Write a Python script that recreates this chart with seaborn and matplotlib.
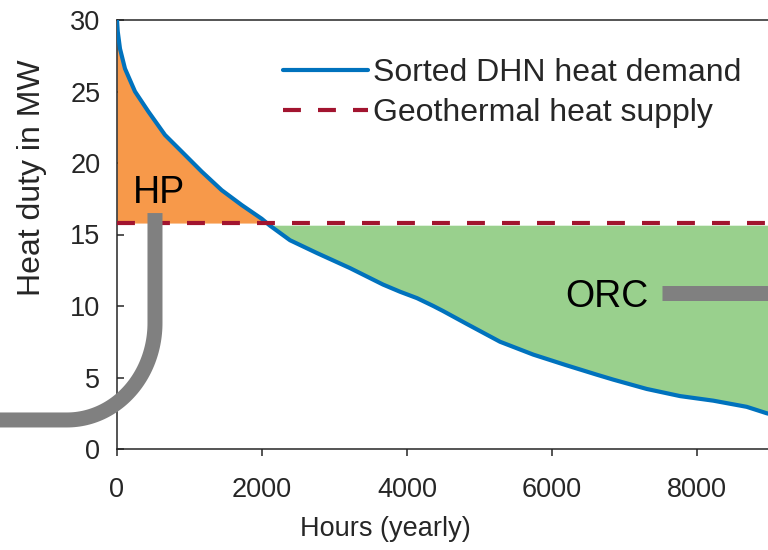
import numpy as np
import pandas as pd
import matplotlib
matplotlib.use("Agg")
import matplotlib.pyplot as plt
import seaborn as sns

# ---- data ----
hours = [0, 10, 41, 110, 248, 432, 662, 892, 1168, 1444, 1720, 1996, 2110,
         2386, 2759, 3214, 3669, 3903, 4138, 4363, 4497, 4823, 5283, 5742,
         6202, 6616, 6846, 7306, 7766, 8225, 8685, 8961, 9000]
demand_mw = [30.0, 29.2, 28.0, 26.6, 25.0, 23.6, 21.96, 20.8, 19.4, 18.1,
             17.06, 16.1, 15.62, 14.6, 13.7, 12.65, 11.5, 11.0, 10.55, 10.0,
             9.65, 8.75, 7.5, 6.6, 5.85, 5.2, 4.85, 4.2, 3.7, 3.38, 2.95,
             2.5, 2.45]
geo_supply_mw = 15.8
orc_top_mw = 15.65
x_ticks = [0, 2000, 4000, 6000, 8000]
y_ticks = [0, 5, 10, 15, 20, 25, 30]
legend_labels = ["Sorted DHN heat demand", "Geothermal heat supply"]
region_labels = ["HP", "ORC"]

BLUE = "#0072BD"
RED = "#A2142F"
ORANGE = "#F7994A"
GREEN = "#99D08D"
GRAY = "#808080"
SPINE = "#262626"

sns.set_theme(style="white")
plt.rcParams["font.family"] = ["Liberation Sans", "DejaVu Sans"]

df = pd.DataFrame({"Hours": hours, "Demand": demand_mw})

W, H = 768, 550
fig = plt.figure(figsize=(W / 100, H / 100), dpi=100)
ax_w = 9000 * 0.0725
ax = fig.add_axes([117 / W, 101 / H, ax_w / W, 429 / H])

x = np.array(hours, float)
y = np.array(demand_mw, float)

# fills
ax.fill_between(x, geo_supply_mw, y, where=y >= geo_supply_mw, interpolate=True,
                color=ORANGE, linewidth=0, zorder=1)
ax.fill_between(x, y, orc_top_mw, where=y <= orc_top_mw, interpolate=True,
                color=GREEN, linewidth=0, zorder=1)

# demand curve
sns.lineplot(data=df, x="Hours", y="Demand", ax=ax, color=BLUE, linewidth=3,
             label=legend_labels[0], zorder=3)
# supply line
ax.axhline(geo_supply_mw, color=RED, linewidth=3, dashes=(4.3, 4.1),
           label=legend_labels[1], zorder=4)

ax.set_xlim(0, 9000)
ax.set_ylim(0, 30)
ax.set_xticks(x_ticks)
ax.set_yticks(y_ticks)

# gray pipe (HP) — horizontal, quarter arc, vertical
cx, cy = -690, 8.81
rx, ry = 1214, 6.78
t = np.linspace(np.pi * 1.5, np.pi * 2, 60)
arc_x = cx + rx * np.cos(t)
arc_y = cy + ry * np.sin(t)
px = np.concatenate([[-1700], arc_x, [cx + rx]])
py = np.concatenate([[cy - ry], arc_y, [16.5]])
ax.plot(px, py, color=GRAY, linewidth=10.8, solid_capstyle="butt",
        clip_on=False, zorder=5)
# ORC bar
ax.plot([7517, 9500], [10.9, 10.9], color=GRAY, linewidth=10.8,
        solid_capstyle="butt", clip_on=False, zorder=5)

ax.text(221, 17.2, region_labels[0], fontsize=27, color="black",
        ha="left", va="baseline", zorder=6)
ax.text(6179, 9.93, region_labels[1], fontsize=27, color="black",
        ha="left", va="baseline", zorder=6)

# spines / ticks
for s in ["left", "bottom", "top", "right"]:
    ax.spines[s].set_color(SPINE)
    ax.spines[s].set_linewidth(1.1)
ax.tick_params(axis="x", direction="out", length=5, width=1.1, color=SPINE,
               pad=15, bottom=True, labelsize=19.5, labelcolor="#262626")
ax.tick_params(axis="y", direction="in", length=5, width=1.1, color=SPINE,
               pad=12, left=True, labelsize=19.5, labelcolor="#262626")

ax.set_xlabel("Hours (yearly)", fontsize=19.5, color="#262626")
ax.xaxis.set_label_coords((385 - 117) / ax_w, (449 - 516) / 429)
ax.set_ylabel("Heat duty in MW", fontsize=23, color="#262626")
ax.yaxis.set_label_coords((47 - 117) / ax_w, (449 - 178) / 429)

handles, labels = ax.get_legend_handles_labels()
leg = ax.legend(handles, labels, loc="upper left",
                bbox_to_anchor=(283 / W, 1 - 58 / H), bbox_transform=fig.transFigure,
                frameon=False, fontsize=23, handlelength=2.66, handletextpad=0.16,
                labelspacing=0.32, borderpad=0, borderaxespad=0)

fig.savefig("out.png", dpi=100)
